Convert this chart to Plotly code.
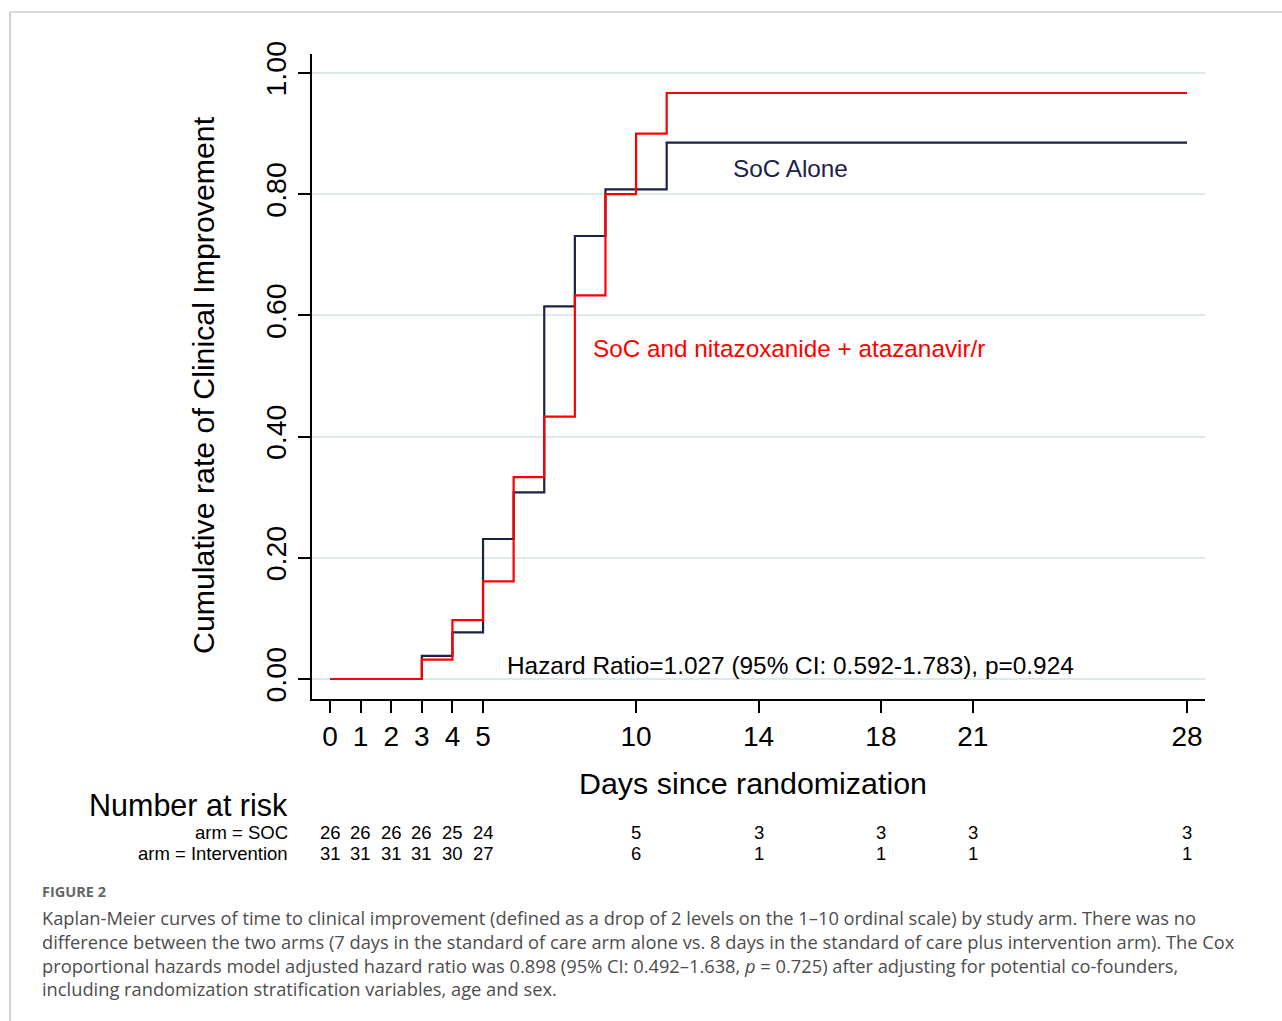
import plotly.graph_objects as go

# ---- data ----
soc_days = [0, 3, 4, 5, 6, 7, 8, 9, 11, 28]
soc_rate = [0.0, 0.038, 0.077, 0.231, 0.308, 0.615, 0.731, 0.808, 0.885, 0.885]
int_days = [0, 3, 4, 5, 6, 7, 8, 9, 10, 11, 28]
int_rate = [0.0, 0.032, 0.097, 0.161, 0.333, 0.433, 0.633, 0.800, 0.900, 0.967, 0.967]

x_ticks = [0, 1, 2, 3, 4, 5, 10, 14, 18, 21, 28]
y_ticks = [0.0, 0.2, 0.4, 0.6, 0.8, 1.0]
y_tick_labels = ["0.00", "0.20", "0.40", "0.60", "0.80", "1.00"]

risk_days = [0, 1, 2, 3, 4, 5, 10, 14, 18, 21, 28]
risk_soc = [26, 26, 26, 26, 25, 24, 5, 3, 3, 3, 3]
risk_int = [31, 31, 31, 31, 30, 27, 6, 1, 1, 1, 1]

caption_title = "FIGURE 2"
caption_lines = [
    "Kaplan-Meier curves of time to clinical improvement (defined as a drop of 2 levels on the 1\u201310 ordinal scale) by study arm. There was no",
    "difference between the two arms (7 days in the standard of care arm alone vs. 8 days in the standard of care plus intervention arm). The Cox",
    "proportional hazards model adjusted hazard ratio was 0.898 (95% CI: 0.492\u20131.638, <i>p</i> = 0.725) after adjusting for potential co-founders,",
    "including randomization stratification variables, age and sex.",
]

NAVY = "#1b2147"
RED = "#ff0000"
FONT = "Liberation Sans, Arial, sans-serif"

W, H = 1282, 1021
L, R, T, B = 312, 1205, 54, 699  # plot area pixels


def px(x):
    return (x - L) / (R - L)


def py(y):
    return (B - y) / (B - T)


fig = go.Figure()
fig.add_trace(go.Scatter(x=soc_days, y=soc_rate, mode="lines", line=dict(color=NAVY, width=2.2, shape="hv"),
                         name="SoC Alone", showlegend=False, hoverinfo="skip"))
fig.add_trace(go.Scatter(x=int_days, y=int_rate, mode="lines", line=dict(color=RED, width=2.2, shape="hv"),
                         name="Intervention", showlegend=False, hoverinfo="skip"))

ann = []
ann.append(dict(x=13.1, y=0.843, xref="x", yref="y", text="SoC Alone", showarrow=False, xanchor="left",
                yanchor="middle", font=dict(family=FONT, size=24.3, color=NAVY)))
ann.append(dict(x=8.53, y=0.546, xref="x", yref="y", text="SoC and nitazoxanide + atazanavir/r", showarrow=False,
                xanchor="left", yanchor="middle", font=dict(family=FONT, size=24.3, color=RED)))
ann.append(dict(x=5.72, y=0.023, xref="x", yref="y", text="Hazard Ratio=1.027 (95% CI: 0.592-1.783), p=0.924",
                showarrow=False, xanchor="left", yanchor="middle", font=dict(family=FONT, size=24.4, color="black")))

# axis titles
ann.append(dict(x=px(203), y=py(385), xref="paper", yref="paper", text="Cumulative rate of Clinical Improvement",
                textangle=-90, showarrow=False, xanchor="center", yanchor="middle",
                font=dict(family=FONT, size=30.3, color="black")))
ann.append(dict(x=px(753), y=py(783), xref="paper", yref="paper", text="Days since randomization",
                showarrow=False, xanchor="center", yanchor="middle", font=dict(family=FONT, size=30.4, color="black")))

# number at risk
ann.append(dict(x=px(290), y=py(805), xref="paper", yref="paper", text="Number at risk", showarrow=False,
                xanchor="right", yanchor="middle", font=dict(family=FONT, size=30.5, color="black")))
ann.append(dict(x=px(290), y=py(832), xref="paper", yref="paper", text="arm = SOC", showarrow=False,
                xanchor="right", yanchor="middle", font=dict(family=FONT, size=18.5, color="black")))
ann.append(dict(x=px(290), y=py(853), xref="paper", yref="paper", text="arm = Intervention", showarrow=False,
                xanchor="right", yanchor="middle", font=dict(family=FONT, size=18.5, color="black")))
for d, s, i in zip(risk_days, risk_soc, risk_int):
    ann.append(dict(x=d, y=py(832), xref="x", yref="paper", text=str(s), showarrow=False,
                    xanchor="center", yanchor="middle", font=dict(family=FONT, size=18.5, color="black")))
    ann.append(dict(x=d, y=py(853), xref="x", yref="paper", text=str(i), showarrow=False,
                    xanchor="center", yanchor="middle", font=dict(family=FONT, size=18.5, color="black")))

# caption
CAP_FONT = "Open Sans, Noto Sans, sans-serif"
ann.append(dict(x=px(40), y=py(891), xref="paper", yref="paper", text="<b>" + caption_title + "</b>",
                showarrow=False, xanchor="left", yanchor="middle",
                font=dict(family=CAP_FONT, size=14.5, color="#666666")))
for k, line in enumerate(caption_lines):
    ann.append(dict(x=px(40), y=py(917 + 24 * k), xref="paper", yref="paper", text=line,
                    showarrow=False, xanchor="left", yanchor="middle",
                    font=dict(family=CAP_FONT, size=18.3, color="#4d4d4d")))

shapes = [
    dict(type="line", xref="paper", yref="paper", x0=px(10), x1=px(1290), y0=py(12), y1=py(12),
         line=dict(color="#b5b5b5", width=1.2)),
    dict(type="line", xref="paper", yref="paper", x0=px(10), x1=px(10), y0=py(12), y1=py(1030),
         line=dict(color="#b5b5b5", width=1.2)),
]

x0 = -18 / 30.607
fig.update_layout(
    width=W, height=H,
    margin=dict(l=L, r=W - R, t=T, b=H - B, pad=0),
    paper_bgcolor="white", plot_bgcolor="white",
    annotations=ann, shapes=shapes,
    xaxis=dict(range=[x0, 28 - x0], tickvals=x_ticks, ticktext=[str(t) for t in x_ticks],
               showline=True, linecolor="black", linewidth=1.5, ticks="outside", ticklen=12,
               tickwidth=1.5, tickcolor="black", showgrid=False, zeroline=False,
               tickfont=dict(family=FONT, size=28, color="black"), ticklabelstandoff=0),
    yaxis=dict(range=[-20 / 606, 1 + 19 / 606], tickvals=y_ticks, ticktext=y_tick_labels, tickangle=-90,
               showline=True, linecolor="black", linewidth=1.5, ticks="outside", ticklen=12,
               tickwidth=1.5, tickcolor="black", showgrid=True, gridcolor="#dde9ea", gridwidth=1.5,
               zeroline=False, tickfont=dict(family=FONT, size=28.5, color="black"), ticklabelstandoff=1),
)

fig.write_html("out.html")
